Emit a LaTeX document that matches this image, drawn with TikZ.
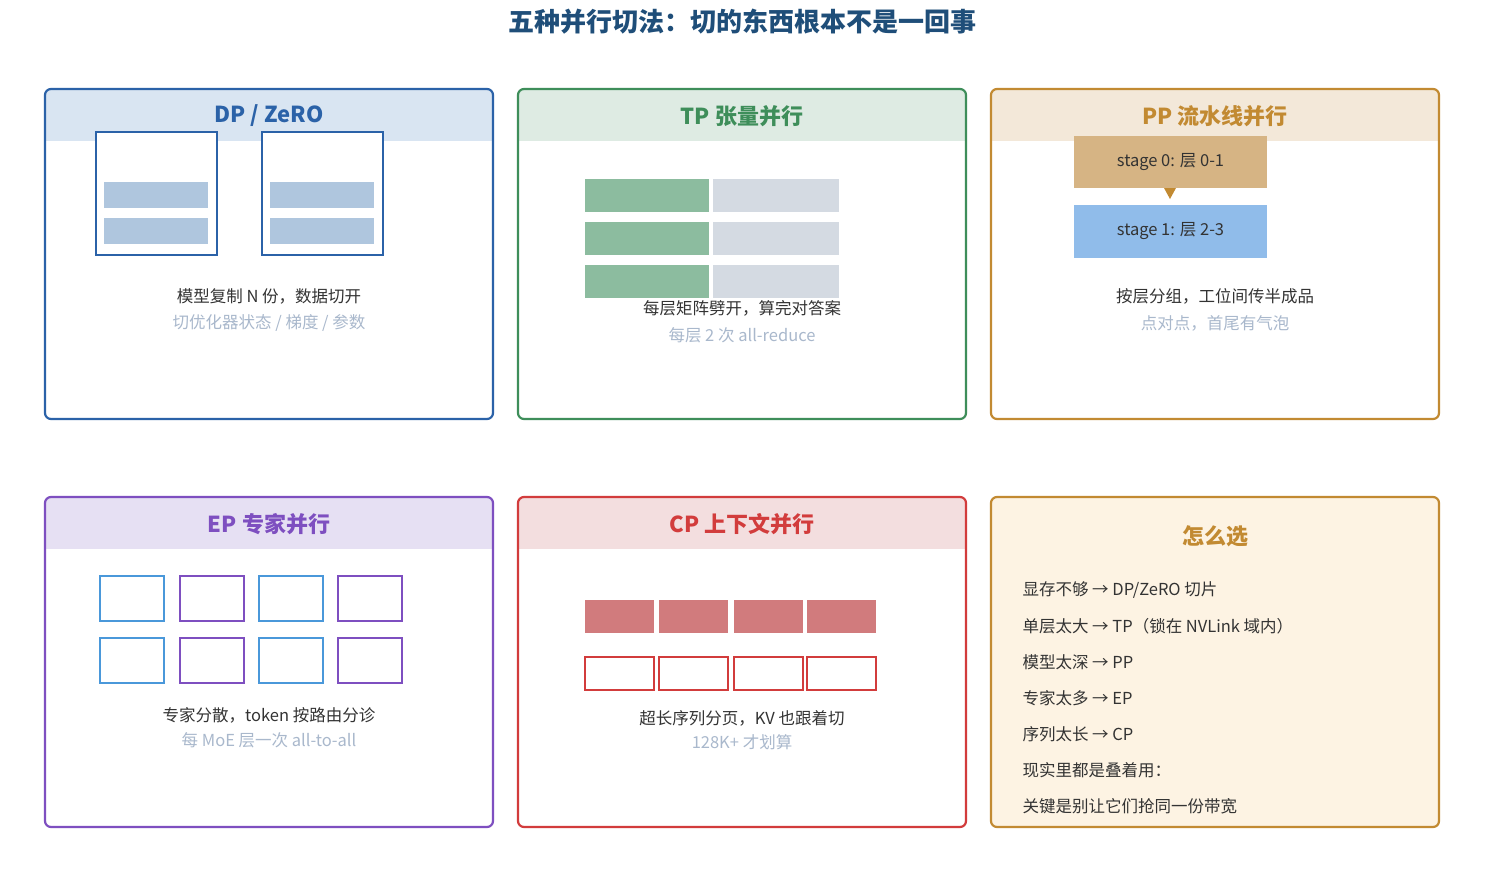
\documentclass[tikz,border=0pt]{standalone}
\usepackage{fontspec}
\setmainfont{Noto Sans CJK SC}
\usetikzlibrary{positioning}
\definecolor{dpc}{HTML}{2B62A8}
\definecolor{dpbg}{HTML}{D9E5F2}
\definecolor{dpbar}{HTML}{AFC6DE}
\definecolor{tpc}{HTML}{3E8E5A}
\definecolor{tpbg}{HTML}{DEEBE3}
\definecolor{tpbar}{HTML}{8CBC9F}
\definecolor{tpgray}{HTML}{D4DAE2}
\definecolor{ppc}{HTML}{C28A32}
\definecolor{ppbg}{HTML}{F3E8D9}
\definecolor{pptan}{HTML}{D6B484}
\definecolor{ppblue}{HTML}{90BCEA}
\definecolor{epc}{HTML}{7E4FC0}
\definecolor{epbg}{HTML}{E6E0F3}
\definecolor{epblue}{HTML}{4A98DA}
\definecolor{cpc}{HTML}{D23C3C}
\definecolor{cpbg}{HTML}{F3DEDF}
\definecolor{cpbar}{HTML}{D17B7D}
\definecolor{selbg}{HTML}{FDF3E3}
\definecolor{ttl}{HTML}{1F4E79}
\definecolor{txt}{HTML}{333333}
\definecolor{sub}{HTML}{A9B8CC}
\begin{document}
\begin{tikzpicture}[x=1pt,y=-1pt,
		card/.style={draw, line width=2.2pt, rounded corners=6pt},
		head/.style={font=\fontsize{22}{26}\selectfont\bfseries},
		main/.style={font=\fontsize{16.5}{20}\selectfont, text=txt},
		note/.style={font=\fontsize{16.5}{20}\selectfont, text=sub},
		item/.style={font=\fontsize{16.5}{20}\selectfont, text=txt, anchor=west}
		]
		\useasboundingbox (0,0) rectangle (1485,883);
		\fill[white] (0,0) rectangle (1485,883);
		
		% Title
		\node[font=\fontsize{26}{30}\selectfont\bfseries, text=ttl] (title) at (742,22) {五种并行切法：切的东西根本不是一回事};
		
		% DP / ZeRO
		\begin{scope}
			\clip[rounded corners=6pt] (45,89) rectangle (493,419);
			\fill[dpbg] (45,89) rectangle (493,141);
		\end{scope}
		\draw[card, dpc] (45,89) rectangle (493,419);
		\node[head, text=dpc] (dpHead) at (269,116) {DP / ZeRO};
		\foreach \x in {96,262} {
			\draw[dpc, line width=2pt, fill=white] (\x,132) rectangle ++(121,123);
			\fill[dpbar] (\x+8,182) rectangle ++(104,26);
			\fill[dpbar] (\x+8,218) rectangle ++(104,26);
		}
		\node[main] (dpMain) at (269,296) {模型复制 N 份，数据切开};
		\node[note] (dpNote) at (269,323) {切优化器状态 / 梯度 / 参数};
		
		% TP
		\begin{scope}
			\clip[rounded corners=6pt] (518,89) rectangle (966,419);
			\fill[tpbg] (518,89) rectangle (966,141);
		\end{scope}
		\draw[card, tpc] (518,89) rectangle (966,419);
		\node[head, text=tpc] (tpHead) at (742,116) {TP 张量并行};
		\foreach \y in {179,222,265} {
			\fill[tpbar] (585,\y) rectangle ++(124,33);
			\fill[tpgray] (713,\y) rectangle ++(126,33);
		}
		\node[main] (tpMain) at (742,308) {每层矩阵劈开，算完对答案};
		\node[note] (tpNote) at (742,335) {每层 2 次 all-reduce};
		
		% PP
		\begin{scope}
			\clip[rounded corners=6pt] (991,89) rectangle (1439,419);
			\fill[ppbg] (991,89) rectangle (1439,141);
		\end{scope}
		\draw[card, ppc] (991,89) rectangle (1439,419);
		\node[head, text=ppc] (ppHead) at (1215,116) {PP 流水线并行};
		\node[fill=pptan, minimum width=193pt, minimum height=52pt, main] (stage0) at (1170.5,162) {stage 0: 层 0-1};
		\node[fill=ppblue, minimum width=193pt, minimum height=53pt, main] (stage1) at (1170.5,231.5) {stage 1: 层 2-3};
		\fill[ppc] (1164,188) -- (1176,188) -- (1170,199) -- cycle;
		\node[main] (ppMain) at (1215,296) {按层分组，工位间传半成品};
		\node[note] (ppNote) at (1215,323) {点对点，首尾有气泡};
		
		% EP
		\begin{scope}
			\clip[rounded corners=6pt] (45,497) rectangle (493,827);
			\fill[epbg] (45,497) rectangle (493,549);
		\end{scope}
		\draw[card, epc] (45,497) rectangle (493,827);
		\node[head, text=epc] (epHead) at (269,524) {EP 专家并行};
		\foreach \x/\c in {100/epblue,180/epc,259/epblue,338/epc}
			\foreach \y in {576,638}
				\draw[\c, line width=2pt] (\x,\y) rectangle ++(64,45);
		\node[main] (epMain) at (269,715) {专家分散，token 按路由分诊};
		\node[note] (epNote) at (269,740) {每 MoE 层一次 all-to-all};
		
		% CP
		\begin{scope}
			\clip[rounded corners=6pt] (518,497) rectangle (966,827);
			\fill[cpbg] (518,497) rectangle (966,549);
		\end{scope}
		\draw[card, cpc] (518,497) rectangle (966,827);
		\node[head, text=cpc] (cpHead) at (742,524) {CP 上下文并行};
		\foreach \x in {585,659,734,807} {
			\fill[cpbar] (\x,600) rectangle ++(69,33);
			\draw[cpc, line width=2pt] (\x,657) rectangle ++(69,33);
		}
		\node[main] (cpMain) at (742,718) {超长序列分页，KV 也跟着切};
		\node[note] (cpNote) at (742,742) {128K+ 才划算};
		
		% How to choose
		\draw[card, ppc, fill=selbg] (991,497) rectangle (1439,827);
		\node[head, text=ppc] (selHead) at (1215,536) {怎么选};
		\node[item] (sel1) at (1019,590) {显存不够 → DP/ZeRO 切片};
		\node[item] (sel2) at (1019,626) {单层太大 → TP（锁在 NVLink 域内）};
		\node[item] (sel3) at (1019,662) {模型太深 → PP};
		\node[item] (sel4) at (1019,698) {专家太多 → EP};
		\node[item] (sel5) at (1019,734) {序列太长 → CP};
		\node[item] (sel6) at (1019,770) {现实里都是叠着用：};
		\node[item] (sel7) at (1019,806) {关键是别让它们抢同一份带宽};
		
	\end{tikzpicture}
\end{document}
